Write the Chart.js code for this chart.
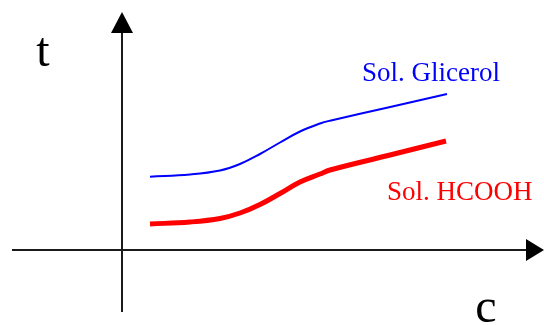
<!DOCTYPE html>
<html>
<head>
<meta charset="utf-8">
<script src="https://cdn.jsdelivr.net/npm/chart.js@4/dist/chart.umd.min.js"></script>
<style>
html,body{margin:0;padding:0;background:#fff;}
#wrap{width:544px;height:325px;position:relative;}
</style>
</head>
<body>
<div id="wrap"><canvas id="c"></canvas></div>
<script>
// concentration (arbitrary units) and time (arbitrary units)
const glicerolC = [2.8, 6.8, 9.8, 11.8, 13.8, 15.8, 17.8, 19.8, 20.8, 26.6, 32.5];
const glicerolT = [7.33, 7.55, 7.95, 8.6, 9.6, 10.75, 11.85, 12.65, 12.93, 14.25, 15.6];
const hcoohC = [2.8, 6.8, 9.8, 11.8, 13.8, 15.8, 17.8, 19.8, 20.8, 26.6, 32.4];
const hcoohT = [2.6, 2.8, 3.15, 3.7, 4.55, 5.65, 6.8, 7.6, 8.0, 9.45, 10.9];
const seriesNames = ['Sol. Glicerol', 'Sol. HCOOH'];
const axisNames = ['c', 't'];

const toPts = (xs, ys) => xs.map((x, i) => ({x: x, y: ys[i]}));

const axesPlugin = {
  id: 'arrowAxes',
  afterDatasetsDraw(chart) {
    const ctx = chart.ctx;
    const xs = chart.scales.x, ys = chart.scales.y;
    const x0 = xs.getPixelForValue(0), y0 = ys.getPixelForValue(0);
    const xL = xs.getPixelForValue(-11), xR = xs.getPixelForValue(42.2);
    const yT = ys.getPixelForValue(23.8), yB = ys.getPixelForValue(-6.2);
    ctx.save();
    ctx.strokeStyle = '#1a1a1a';
    ctx.fillStyle = '#000';
    ctx.lineWidth = 2;
    // x axis
    ctx.beginPath(); ctx.moveTo(xL, y0); ctx.lineTo(xR - 10, y0); ctx.stroke();
    ctx.beginPath(); ctx.moveTo(xR, y0); ctx.lineTo(xR - 18, y0 - 11); ctx.lineTo(xR - 18, y0 + 11); ctx.closePath(); ctx.fill();
    // y axis
    ctx.beginPath(); ctx.moveTo(x0, yB); ctx.lineTo(x0, yT + 10); ctx.stroke();
    ctx.beginPath(); ctx.moveTo(x0, yT); ctx.lineTo(x0 - 11, yT + 21); ctx.lineTo(x0 + 11, yT + 21); ctx.closePath(); ctx.fill();
    // axis names
    ctx.fillStyle = '#000';
    ctx.font = '48px "Liberation Serif", "Times New Roman", serif';
    ctx.textAlign = 'center';
    ctx.textBaseline = 'alphabetic';
    ctx.fillText(axisNames[1], xs.getPixelForValue(-7.9), ys.getPixelForValue(18.4));
    ctx.fillText(axisNames[0], xs.getPixelForValue(36.4), ys.getPixelForValue(-7.2));
    // series labels
    ctx.font = '27px "Liberation Serif", "Times New Roman", serif';
    ctx.textAlign = 'left';
    ctx.fillStyle = '#0000ff';
    ctx.fillText(seriesNames[0], xs.getPixelForValue(24.0), ys.getPixelForValue(16.9));
    ctx.fillStyle = '#ff0000';
    ctx.fillText(seriesNames[1], xs.getPixelForValue(26.5), ys.getPixelForValue(5.0));
    ctx.restore();
  }
};

new Chart(document.getElementById('c'), {
  type: 'line',
  data: {
    datasets: [
      {label: seriesNames[0], data: toPts(glicerolC, glicerolT), borderColor: '#0000ff', borderWidth: 2, pointRadius: 0, tension: 0.4, fill: false},
      {label: seriesNames[1], data: toPts(hcoohC, hcoohT), borderColor: '#ff0000', borderWidth: 5, pointRadius: 0, tension: 0.4, fill: false}
    ]
  },
  options: {
    responsive: true,
    maintainAspectRatio: false,
    animation: false,
    layout: {padding: 0},
    plugins: {legend: {display: false}, tooltip: {enabled: false}},
    scales: {
      x: {type: 'linear', display: false, min: -12.2, max: 42.2},
      y: {type: 'linear', display: false, min: -7.5, max: 25}
    }
  },
  plugins: [axesPlugin]
});
</script>
</body>
</html>
